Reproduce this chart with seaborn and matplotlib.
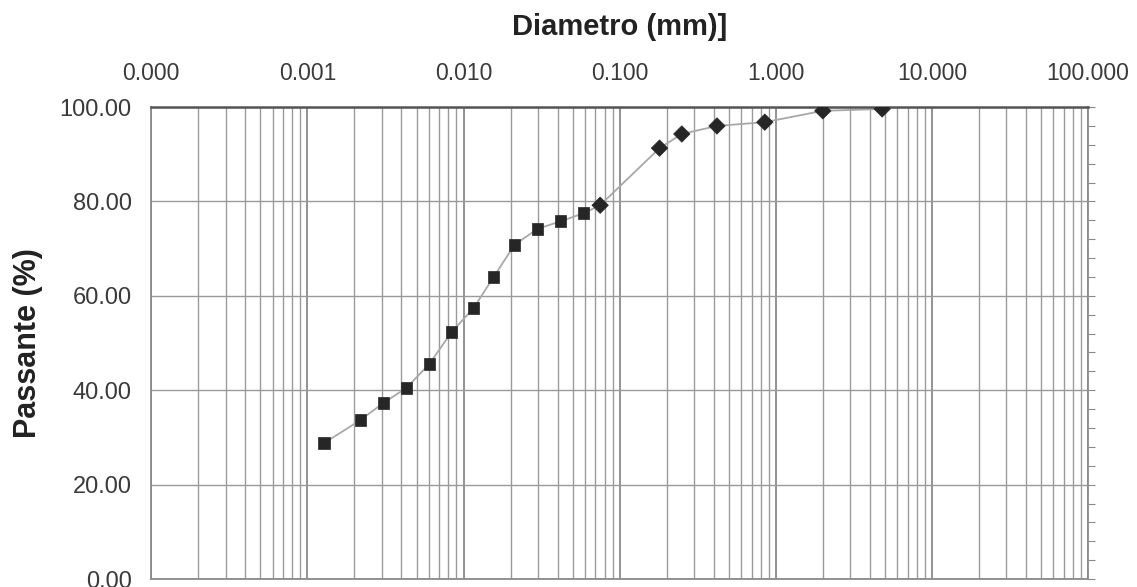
import numpy as np
import pandas as pd
import matplotlib
matplotlib.use("Agg")
import matplotlib.pyplot as plt
from matplotlib.ticker import FixedLocator, LogLocator, NullFormatter, FuncFormatter
import seaborn as sns

# Sedimentation (hydrometer) points - squares
diam_sed = [0.00128, 0.00219, 0.00307, 0.00431, 0.00605, 0.00838,
            0.0116, 0.0156, 0.0212, 0.0298, 0.0419, 0.0588]
pass_sed = [28.8, 33.7, 37.3, 40.5, 45.6, 52.3, 57.4, 64.0, 70.8, 74.2, 75.8, 77.5]

# Sieve points - diamonds
diam_pen = [0.075, 0.18, 0.25, 0.42, 0.85, 2.0, 4.8]
pass_pen = [79.2, 91.3, 94.3, 96.0, 96.8, 99.2, 99.6]

x_ticks = [0.0001, 0.001, 0.01, 0.1, 1, 10, 100]
y_ticks = [0, 20, 40, 60, 80, 100]

df = pd.DataFrame({
    "Diametro": diam_sed + diam_pen,
    "Passante": pass_sed + pass_pen,
    "Ensaio": ["Sedimentação"] * len(diam_sed) + ["Peneiramento"] * len(diam_pen),
})

sns.set_style("white")
plt.rcParams["font.family"] = ["Liberation Sans", "DejaVu Sans"]

fig = plt.figure(figsize=(11.37, 5.87), dpi=100)
ax = fig.add_axes([0.133, 0.0136, 0.824, 0.804])

ax.set_xscale("log")
ax.set_xlim(0.0001, 100)
ax.set_ylim(0, 100)

# grid
ax.xaxis.set_major_locator(FixedLocator(x_ticks))
ax.xaxis.set_minor_locator(LogLocator(base=10, subs=np.arange(2, 10)))
ax.xaxis.set_minor_formatter(NullFormatter())
ax.yaxis.set_major_locator(FixedLocator(y_ticks))
ax.grid(True, which="major", axis="x", color="#8a8a8a", lw=1.3)
ax.grid(True, which="minor", axis="x", color="#9a9a9a", lw=1.0)
ax.grid(True, which="major", axis="y", color="#9a9a9a", lw=1.0)
ax.set_axisbelow(True)

sns.lineplot(data=df, x="Diametro", y="Passante", color="#a8a8a8", lw=1.3,
             sort=False, estimator=None, ax=ax, legend=False, zorder=2)
sns.scatterplot(data=df, x="Diametro", y="Passante", style="Ensaio",
                markers={"Sedimentação": "s", "Peneiramento": "D"},
                color="#262626", s=70, edgecolor="#262626", linewidth=0.5,
                ax=ax, legend=False, zorder=3)

# top axis labels
ax.xaxis.tick_top()
ax.xaxis.set_label_position("top")
ax.xaxis.set_major_formatter(FuncFormatter(lambda v, p: f"{v:.3f}"))
ax.tick_params(axis="x", which="both", length=0, labelsize=16.5, colors="#3a3a3a", pad=16)
ax.tick_params(axis="y", which="both", length=0, labelsize=17, colors="#3a3a3a", pad=14)
ax.yaxis.set_major_formatter(FuncFormatter(lambda v, p: f"{v:.2f}"))

ax.set_xlabel("Diametro (mm)]", fontsize=21, fontweight="bold", color="#222222", labelpad=19)
ax.set_ylabel("Passante (%)", fontsize=22, fontweight="bold", color="#222222", labelpad=12)

for side in ["left", "bottom", "right"]:
    ax.spines[side].set_color("#8a8a8a")
    ax.spines[side].set_linewidth(1.3)
ax.spines["top"].set_color("#555555")
ax.spines["top"].set_linewidth(1.8)

# small outward ticks on the right side
sec = ax.secondary_yaxis("right")
sec.yaxis.set_major_locator(FixedLocator(np.arange(0, 101, 4)))
sec.tick_params(axis="y", length=5, color="#8a8a8a", labelright=False, direction="out")
sec.spines["right"].set_visible(False)

fig.savefig("out.png", dpi=100)
